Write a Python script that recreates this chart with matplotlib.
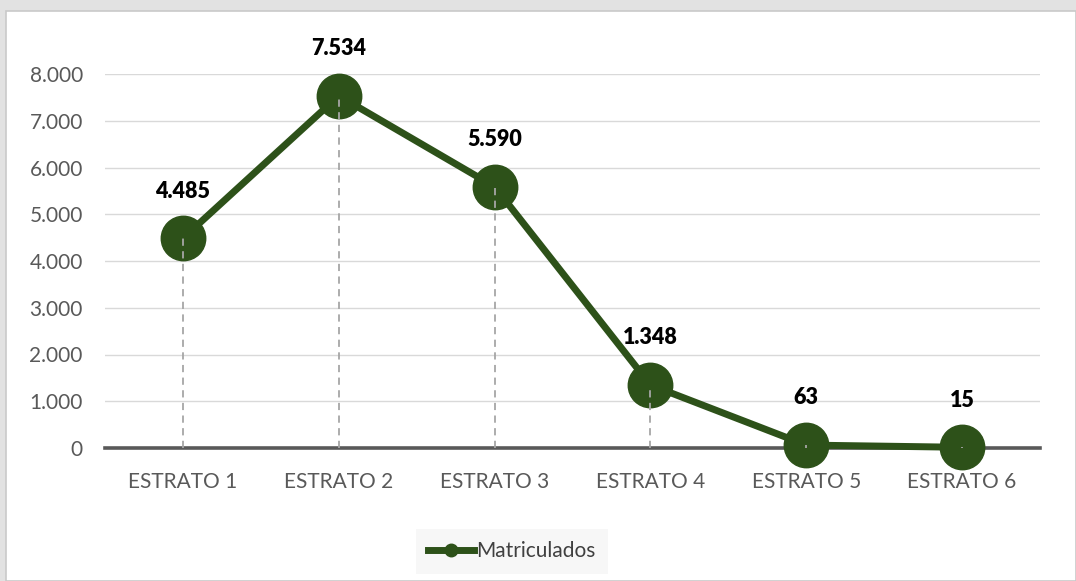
import matplotlib.pyplot as plt
from matplotlib.patches import Rectangle
from matplotlib.lines import Line2D
from matplotlib.ticker import FuncFormatter

# Matriculados por estrato
estratos = ['ESTRATO 1', 'ESTRATO 2', 'ESTRATO 3', 'ESTRATO 4', 'ESTRATO 5', 'ESTRATO 6']
matriculados = [4485, 7534, 5590, 1348, 63, 15]
y_ticks = [0, 1000, 2000, 3000, 4000, 5000, 6000, 7000, 8000]

green = '#2d5119'
text_gray = '#595959'

plt.rcParams['font.family'] = ['Lato', 'DejaVu Sans']

fig = plt.figure(figsize=(10.76, 5.81), dpi=100, facecolor='#e2e2e2')
# white chart area
fig.patches.append(Rectangle((6 / 1076, 0), 1 - 6 / 1076, 1 - 11 / 581,
                             transform=fig.transFigure, facecolor='white',
                             edgecolor='#c9c9c9', linewidth=1.2, zorder=-5))

ax = fig.add_axes([105 / 1076, 1 - 448 / 581, (1040 - 105) / 1076, (448 - 74) / 581])
ax.set_facecolor('none')

x = list(range(len(estratos)))

# gridlines
for t in y_ticks[1:]:
    ax.axhline(t, color='#d9d9d9', linewidth=1, zorder=1)
ax.axhline(0, color='#595959', linewidth=2.6, zorder=2, clip_on=False)

ax.plot(x, matriculados, color=green, linewidth=5, marker='o', markersize=32,
        markerfacecolor=green, markeredgecolor=green, zorder=3, clip_on=False)

# drop lines from each point to the axis
ax.vlines(x, 0, matriculados, colors='#a6a6a6', linestyles=(0, (4, 3)),
          linewidth=1.3, zorder=4)

for xi, v in zip(x, matriculados):
    ax.annotate(f'{v:,}'.replace(',', '.'), (xi, v), xytext=(0, 34),
                textcoords='offset points', ha='center', va='center',
                fontsize=15.5, fontweight='heavy', color='black', zorder=5,
                annotation_clip=False)

ax.set_xlim(-0.5, len(estratos) - 0.5)
ax.set_ylim(0, 8000)
ax.set_xticks(x)
ax.set_xticklabels(estratos)
ax.set_yticks(y_ticks)
ax.yaxis.set_major_formatter(FuncFormatter(lambda v, p: f'{int(v):,}'.replace(',', '.')))
ax.tick_params(axis='both', length=0, labelsize=15, labelcolor=text_gray)
ax.tick_params(axis='y', pad=16)
ax.tick_params(axis='x', pad=17)
for s in ax.spines.values():
    s.set_visible(False)

handle = Line2D([], [], color=green, linewidth=5, marker='o', markersize=9)
leg = fig.legend([handle], ['Matriculados'], loc='center',
                 bbox_to_anchor=(512 / 1076, 1 - 551 / 581), frameon=True,
                 fontsize=15, handlelength=2.2, handletextpad=0.1,
                 borderpad=0.6, borderaxespad=0, fancybox=False)
leg.get_frame().set_facecolor('#f5f5f5')
leg.get_frame().set_edgecolor('none')
for t in leg.get_texts():
    t.set_color('#404040')

fig.savefig('out.png', dpi=100, facecolor=fig.get_facecolor())
